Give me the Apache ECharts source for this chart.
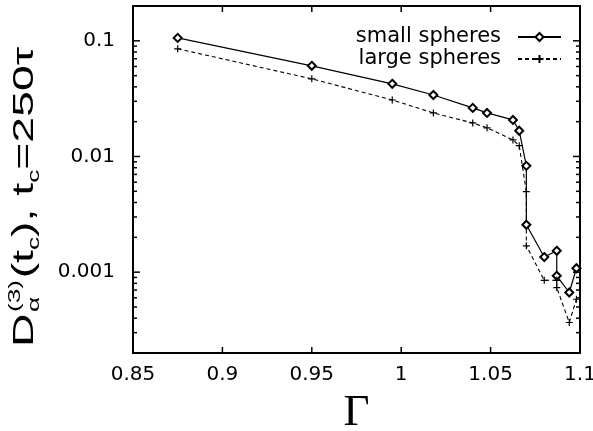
<!DOCTYPE html>
<html>
<head>
<meta charset="utf-8">
<script src="https://cdn.jsdelivr.net/npm/echarts@6/dist/echarts.min.js"></script>
<style>
  html, body { margin: 0; padding: 0; background: #fff; }
  #chart { width: 593px; height: 431px; }
</style>
</head>
<body>
<div id="chart"></div>
<script>
// Gamma values shared by both curves
const gamma = [0.875, 0.95, 0.995, 1.018, 1.04, 1.048, 1.0625, 1.066, 1.07, 1.07, 1.08, 1.087, 1.087, 1.094, 1.098];
const smallSpheres = [0.106, 0.0608, 0.0425, 0.034, 0.0263, 0.0238, 0.0207, 0.0167, 0.0083, 0.00257, 0.00135, 0.00153, 0.00093, 0.000667, 0.00108];
const largeSpheres = [0.0853, 0.0469, 0.0308, 0.0238, 0.0195, 0.0177, 0.0139, 0.0124, 0.00496, 0.00169, 0.00085, 0.00085, 0.000736, 0.000367, 0.000583];
const seriesNames = ["small spheres", "large spheres"];
const xTicks = [0.85, 0.9, 0.95, 1, 1.05, 1.1];
const yMajor = [0.001, 0.01, 0.1];
const yMinorMult = [2, 3, 4, 5, 6, 7, 8, 9];
const yDecades = [0.0001, 0.001, 0.01, 0.1];

const Y_MIN = 0.0002, Y_MAX = 0.2;
const yMinor = [];
yDecades.forEach(d => yMinorMult.forEach(m => {
  const v = +(m * d).toPrecision(2);
  if (v >= Y_MIN && v <= Y_MAX) yMinor.push(v);
}));

const chart = echarts.init(document.getElementById("chart"));

// rotated y title built from pieces (stacked super/subscript)
const cv = document.createElement("canvas").getContext("2d");
function tw(t, size) { cv.font = size + 'px "Liberation Sans"'; return cv.measureText(t).width; }
const BIG = 30, SML = 17;
const pieces = [];
let cx = 0;
function put(text, size, dy, advance) {
  pieces.push({ text, size, dy, x: cx });
  if (advance) cx += tw(text, size);
}
put("D", BIG, 0, true);
const stackX = cx + 1;
cx = stackX;
put("(3)", SML, -10, false);
put("\u03b1", SML, 9, false);
cx = stackX + Math.max(tw("(3)", SML), tw("\u03b1", SML)) + 1;
put("(t", BIG, 0, true);
put("c", SML, 9, true);
put("), t", BIG, 0, true);
put("c", SML, 9, true);
put("=250\u03c4", BIG, 0, true);
const natW = cx;
const titleLen = 300;
const sx = titleLen / natW;

const titleGroup = {
  type: "group",
  x: 25, y: 197,
  rotation: Math.PI / 2,
  scaleX: sx,
  children: pieces.map(p => ({
    type: "text",
    x: p.x - natW / 2,
    y: p.dy,
    style: {
      text: p.text,
      font: p.size + 'px "Liberation Sans"',
      fill: "#000",
      align: "left",
      verticalAlign: "middle"
    }
  }))
};

const tickFont = () => ({ fontFamily: "DejaVu Sans", fontSize: 20, color: "#000" });
const frameLine = () => ({ show: true, onZero: false, lineStyle: { color: "#000", width: 2 } });

function yAxisDef(pos, labels) {
  return {
    type: "log", min: Y_MIN, max: Y_MAX, position: pos,
    axisLine: frameLine(), splitLine: { show: false }, axisTick: { show: false },
    axisLabel: labels
      ? Object.assign({ margin: 18, customValues: yMajor, formatter: v => String(+v.toPrecision(1)) }, tickFont())
      : { show: false }
  };
}

chart.setOption({
  animation: false,
  backgroundColor: "#fff",
  grid: { left: 133, right: 13, top: 6, bottom: 78, containLabel: false, outerBoundsMode: "none" },
  legend: {
    data: seriesNames,
    orient: "vertical",
    right: 26, top: 21,
    align: "right",
    itemWidth: 43, itemHeight: 10, itemGap: 0,
    textStyle: { fontFamily: "DejaVu Sans", fontSize: 21, color: "#000", lineHeight: 22, padding: [0, 12, 0, 0] }
  },
  xAxis: [{
    type: "value", min: 0.85, max: 1.1, interval: 0.05, position: "bottom",
    axisLine: frameLine(), splitLine: { show: false }, axisTick: { show: false },
    axisLabel: Object.assign({ margin: 12, formatter: v => String(+v.toFixed(2)) }, tickFont()),
    name: "\u0393", nameLocation: "middle", nameGap: 38,
    nameTextStyle: { fontFamily: "Liberation Serif", fontSize: 45, color: "#000" }
  }, {
    type: "value", min: 0.85, max: 1.1, interval: 0.05, position: "top",
    axisLine: frameLine(), splitLine: { show: false }, axisTick: { show: false },
    axisLabel: { show: false }
  }],
  yAxis: [yAxisDef("left", true), yAxisDef("right", false)],
  series: [{
    name: seriesNames[0],
    type: "line",
    data: gamma.map((g, i) => [g, smallSpheres[i]]),
    symbol: "emptyDiamond", symbolSize: 8,
    lineStyle: { color: "#000", width: 1.2 },
    itemStyle: { color: "#000", borderWidth: 1.2 }
  }, {
    name: seriesNames[1],
    type: "line",
    data: gamma.map((g, i) => [g, largeSpheres[i]]),
    symbol: "path://M5,0L5,10M0,5L10,5", symbolSize: 7,
    lineStyle: { color: "#000", width: 1.1, type: [4, 3] },
    itemStyle: { color: "#000", borderColor: "#000", borderWidth: 1.2 }
  }]
});

// inward gnuplot-style ticks, placed through the axes' own scales
const px = v => chart.convertToPixel({ xAxisIndex: 0 }, v);
const py = v => chart.convertToPixel({ yAxisIndex: 0 }, v);
const xL = px(0.85), xR = px(1.1), yB = py(Y_MIN), yT = py(Y_MAX);
const tick = (x1, y1, x2, y2) => ({
  type: "line", z: 10, silent: true,
  shape: { x1, y1, x2, y2 },
  style: { stroke: "#000", lineWidth: 1.5 }
});
const ticks = [];
xTicks.forEach(v => {
  const x = px(v);
  ticks.push(tick(x, yB, x, yB - 6), tick(x, yT, x, yT + 6));
});
yMajor.forEach(v => {
  const y = py(v);
  ticks.push(tick(xL, y, xL + 7, y), tick(xR, y, xR - 7, y));
});
yMinor.forEach(v => {
  const y = py(v);
  ticks.push(tick(xL, y, xL + 4, y), tick(xR, y, xR - 4, y));
});

chart.setOption({ graphic: [titleGroup].concat(ticks) });
</script>
</body>
</html>
